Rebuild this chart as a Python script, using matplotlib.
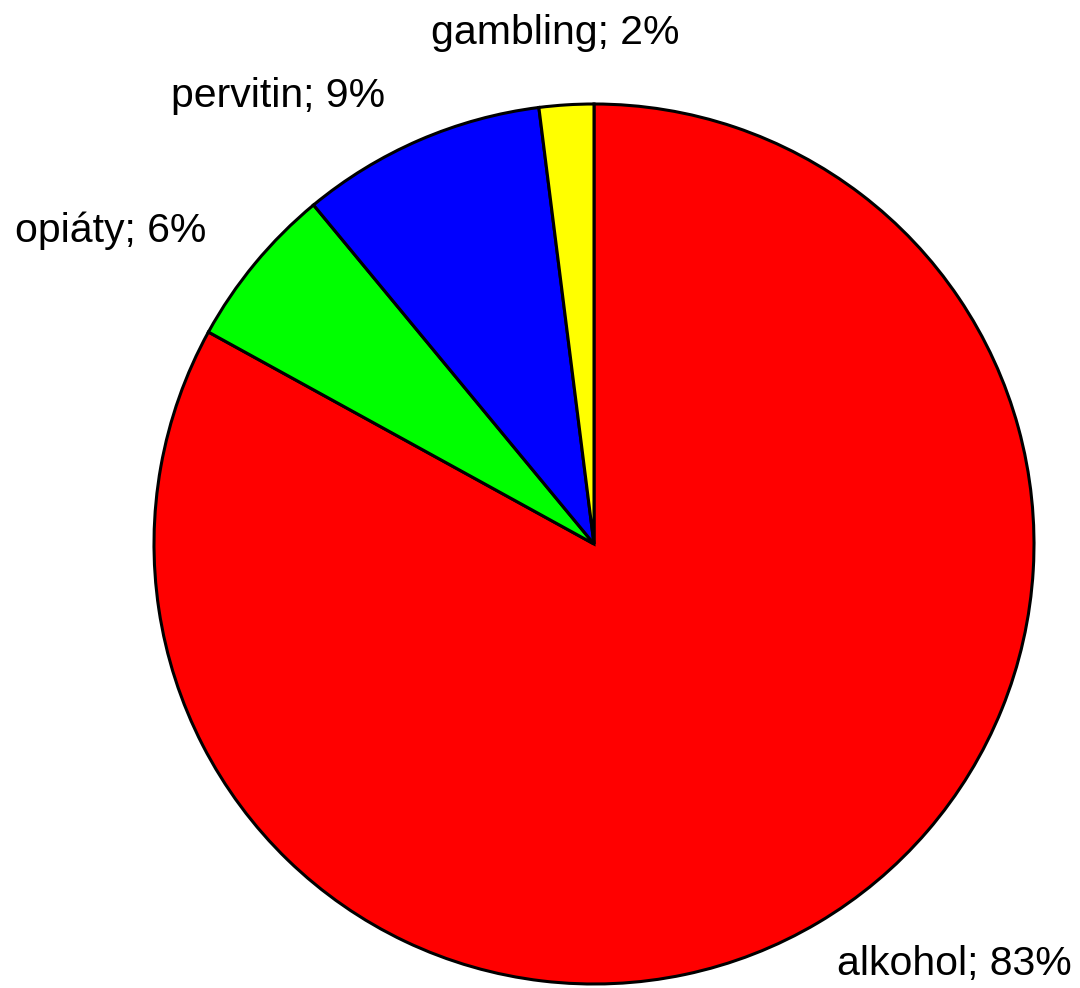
import matplotlib
matplotlib.use("Agg")
from matplotlib import pyplot as plt

# ---- data ----
categories = ["alkohol", "opiáty", "pervitin", "gambling"]
shares = [83, 6, 9, 2]
colors = ["#FF0000", "#00FF00", "#0000FF", "#FFFF00"]

# label anchors (pie radius = 1), alignment per label
label_xy = [(0.552, -0.980), (-0.882, 0.686), (-0.475, 0.993), (-0.089, 1.136)]
label_ha = ["left", "right", "right", "center"]

plt.rcParams["font.family"] = ["Liberation Sans", "DejaVu Sans"]

fig = plt.figure(figsize=(10.8, 9.88), dpi=100)
ax = fig.add_axes([154 / 1080, 4 / 988, 880 / 1080, 880 / 988])

labels = [f"{c}; {v}%" for c, v in zip(categories, shares)]
wedges, texts = ax.pie(
    shares,
    labels=labels,
    colors=colors,
    startangle=90,
    counterclock=False,
    wedgeprops=dict(edgecolor="black", linewidth=2.2),
    textprops=dict(fontsize=29.5),
)

for t, xy, ha in zip(texts, label_xy, label_ha):
    t.set_position(xy)
    t.set_ha(ha)
    t.set_va("baseline")

ax.set_xlim(-1, 1)
ax.set_ylim(-1, 1)
ax.set_aspect("equal")
ax.axis("off")

fig.savefig("out.png", dpi=100)
